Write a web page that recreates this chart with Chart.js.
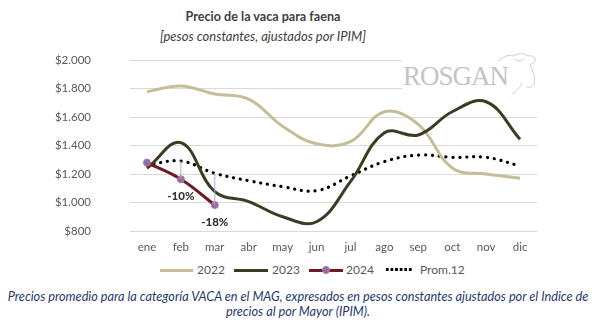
<!DOCTYPE html>
<html>
<head>
<meta charset="utf-8">
<script src="https://cdn.jsdelivr.net/npm/chart.js@4.4.0/dist/chart.umd.min.js"></script>
<style>
    body { margin: 0; background: #fff; font-family: Lato, "Open Sans", sans-serif; }
    #page { position: relative; width: 602px; height: 322px; overflow: hidden; }
    .title { position: absolute; left: 0; width: 526px; text-align: center; color: #404040; }
    #t1 { top: 9px; font-size: 12.6px; font-weight: bold; }
    #t2 { top: 28px; font-size: 13px; font-style: italic; }
    #vacaChart { position: absolute; left: 0; top: 50px; }
    #logo { position: absolute; left: 402px; top: 52px; width: 140px; height: 42px; background: #fff; }
    #logo span { position: absolute; left: 1px; top: 9px; font-family: "Liberation Serif", serif; font-size: 27px; color: #c4c4c4; letter-spacing: -1px; }
    #logo svg { position: absolute; left: 0; top: 0; }
    .leg { position: absolute; top: 263px; font-size: 12px; color: #595959; line-height: 14px; }
    .legLine { position: absolute; top: 269px; height: 3px; }
    .caption { position: absolute; left: 0; width: 596px; text-align: center; color: #1f3a6e; font-style: italic; font-size: 12.7px; white-space: nowrap; }
</style>
</head>
<body>
<div id="page">
    <div class="title" id="t1">Precio de la vaca para faena</div>
    <div class="title" id="t2">[pesos constantes, ajustados por IPIM]</div>
    <canvas id="vacaChart" width="602" height="205"></canvas>
    <div id="logo">
        <span>ROSGAN</span>
        <svg width="140" height="42" viewBox="0 0 140 42">
            <path d="M96 9 C102 5 106 2 111 4 C116 1 122 1 126 4 C130 3 134 5 133 9 C132 12 129 11 128 13 C131 19 134 26 132 32 C130 36 126 36 124 34 M120 31 C118 36 114 40 110 42"
                  fill="none" stroke="#cfcfcf" stroke-width="1"/>
            <path d="M112 7 C115 10 119 9 122 7" fill="none" stroke="#cfcfcf" stroke-width="1"/>
        </svg>
    </div>

    <div class="legLine" style="left:160px;width:33px;background:#c4bd97"></div>
    <div class="leg" style="left:197px">2022</div>
    <div class="legLine" style="left:234px;width:34px;background:#3b3d23"></div>
    <div class="leg" style="left:272px">2023</div>
    <div class="legLine" style="left:309px;width:34px;background:#6e1a24"></div>
    <div style="position:absolute;left:322px;top:266px;width:6px;height:6px;border-radius:50%;background:#7f72b5;border:1px solid #d46a7e"></div>
    <div class="leg" style="left:346px">2024</div>
    <div style="position:absolute;left:385px;top:268px;width:27px;height:3px;background-image:radial-gradient(circle, #000 1.4px, transparent 1.6px);background-size:4.6px 3px"></div>
    <div class="leg" style="left:420px">Prom.12</div>

    <div class="caption" style="top:288px">Precios promedio para la categoría VACA en el MAG, expresados en pesos constantes ajustados por el Indice de</div>
    <div class="caption" style="top:303px">precios al por Mayor (IPIM).</div>
</div>

<script>
// Data
const months = ['ene', 'feb', 'mar', 'abr', 'may', 'jun', 'jul', 'ago', 'sep', 'oct', 'nov', 'dic'];
const values2022 = [1778, 1818, 1762, 1726, 1535, 1412, 1427, 1637, 1548, 1242, 1200, 1170];
const values2023 = [1240, 1420, 1076, 1006, 900, 865, 1146, 1490, 1474, 1637, 1707, 1444];
const values2024 = [1280, 1163, 982];
const valuesProm = [1263, 1291, 1205, 1153, 1111, 1083, 1186, 1287, 1333, 1317, 1317, 1256];
const diffLabels = ['', '-10%', '-18%'];

// Vertical difference lines between Prom.12 and 2024, with labels
const diffPlugin = {
    id: 'diffPlugin',
    afterDatasetsDraw(chart) {
        const ctx = chart.ctx;
        const x = chart.scales.x;
        const y = chart.scales.y;
        ctx.save();
        diffLabels.forEach((label, i) => {
            if (!label) return;
            const px = x.getPixelForValue(i);
            const yTop = y.getPixelForValue(valuesProm[i]);
            const yBot = y.getPixelForValue(values2024[i]);
            ctx.strokeStyle = '#b4a7d6';
            ctx.lineWidth = 1;
            ctx.beginPath();
            ctx.moveTo(px, yTop);
            ctx.lineTo(px, yBot);
            ctx.stroke();
            ctx.fillStyle = '#333333';
            ctx.font = '900 11.5px Lato';
            ctx.textAlign = 'center';
            ctx.textBaseline = 'middle';
            ctx.fillText(label, px, yBot + 17);
        });
        ctx.restore();
    }
};

const ctx = document.getElementById('vacaChart').getContext('2d');
new Chart(ctx, {
    type: 'line',
    data: {
        labels: months,
        datasets: [
            {
                label: 'Prom.12',
                data: valuesProm,
                borderColor: '#000',
                borderWidth: 3.2,
                borderDash: [0.1, 6.8],
                borderCapStyle: 'round',
                pointRadius: 0,
                tension: 0.4,
                order: 4
            },
            {
                label: '2022',
                data: values2022,
                borderColor: '#c4bd97',
                borderWidth: 3,
                pointRadius: 0,
                tension: 0.4,
                order: 3
            },
            {
                label: '2023',
                data: values2023,
                borderColor: '#3b3d23',
                borderWidth: 3,
                pointRadius: 0,
                tension: 0.4,
                order: 2
            },
            {
                label: '2024',
                data: values2024,
                borderColor: '#6e1a24',
                borderWidth: 3,
                pointRadius: 3.5,
                pointBackgroundColor: '#7f72b5',
                pointBorderColor: '#d46a7e',
                pointBorderWidth: 1,
                tension: 0.4,
                order: 1
            }
        ]
    },
    options: {
        responsive: false,
        maintainAspectRatio: false,
        animation: false,
        layout: {
            padding: { top: 10, right: 65, left: 0, bottom: 0 }
        },
        plugins: {
            legend: { display: false },
            tooltip: { enabled: false }
        },
        scales: {
            x: {
                offset: true,
                grid: { display: false, drawTicks: false },
                border: { display: false },
                afterFit: function(scale) {
                    scale.height = 24;
                },
                ticks: {
                    color: '#595959',
                    font: { family: 'Lato', size: 11.5 },
                    padding: 9
                }
            },
            y: {
                min: 800,
                max: 2000,
                afterFit: function(scale) {
                    // fixed axis width; drop the extra top/bottom padding the tick padding adds
                    scale.width = 130;
                    scale.paddingTop = 7;
                    scale.paddingBottom = 7;
                },
                grid: { color: '#d9d9d9', drawTicks: false, lineWidth: 1 },
                border: { display: false },
                ticks: {
                    stepSize: 200,
                    color: '#595959',
                    font: { family: 'Lato', size: 11.5 },
                    padding: 39,
                    callback: function(value) {
                        return '$' + value.toLocaleString('de-DE');
                    }
                }
            }
        }
    },
    plugins: [diffPlugin]
});
</script>
</body>
</html>
